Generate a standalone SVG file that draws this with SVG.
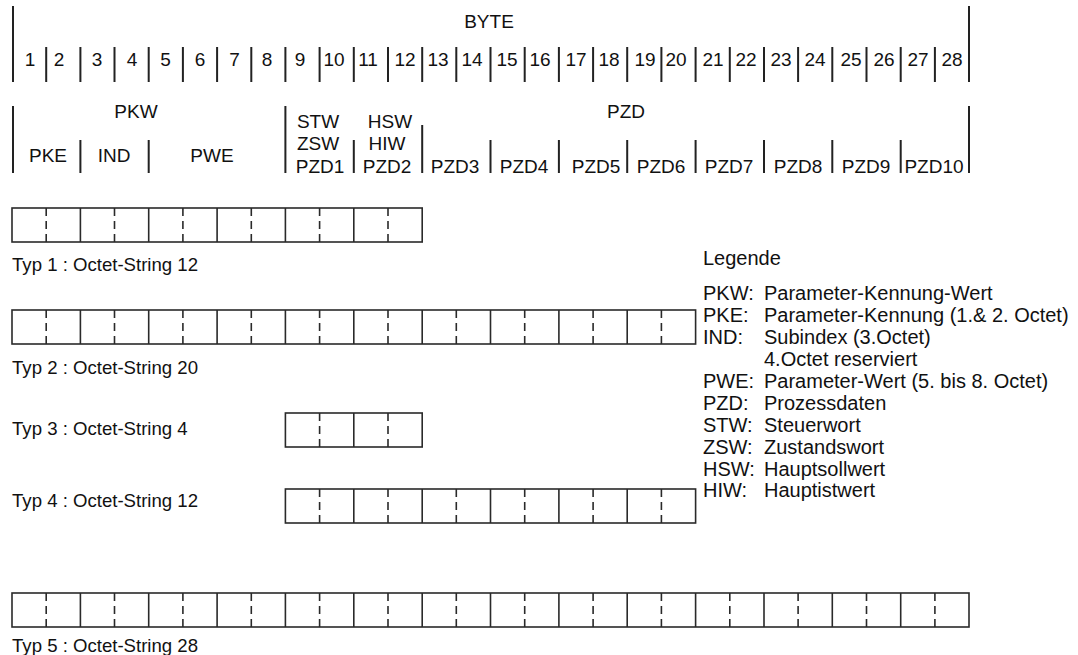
<svg xmlns="http://www.w3.org/2000/svg" width="1078" height="655" viewBox="0 0 1078 655">
<style>
text{font-family:"Liberation Sans",Arial,sans-serif;fill:#111}
.h{font-size:19px;text-anchor:middle}
.t{font-size:18.6px}
.l{font-size:20px}
.hl{stroke:#222;stroke-width:2;fill:none}
.bx{stroke:#2a2a2a;stroke-width:1.6;fill:none}
.ds{stroke:#2a2a2a;stroke-width:1.6;stroke-dasharray:8 5;fill:none}
</style>
<rect width="1078" height="655" fill="#fff"/>
<g id="header-byte">
<text class="h" x="489" y="28">BYTE</text>
<path class="hl" d="M13 6V82M969 6V82M46.2 47V82M80.4 47V82M114.5 47V82M148.7 47V82M182.9 47V82M217.1 47V82M251.3 47V82M285.4 47V82M319.6 47V82M353.8 47V82M388 47V82M422.2 47V82M456.3 47V82M490.5 47V82M524.7 47V82M558.9 47V82M593.1 47V82M627.2 47V82M661.4 47V82M695.6 47V82M729.8 47V82M764 47V82M798.1 47V82M832.3 47V82M866.5 47V82M900.7 47V82M934.9 47V82"/>
<g class="nums">
<text class="h" x="30" y="65.5">1</text><text class="h" x="59" y="65.5">2</text><text class="h" x="97" y="65.5">3</text><text class="h" x="132" y="65.5">4</text><text class="h" x="165.5" y="65.5">5</text><text class="h" x="200" y="65.5">6</text><text class="h" x="234.5" y="65.5">7</text><text class="h" x="267" y="65.5">8</text><text class="h" x="300" y="65.5">9</text><text class="h" x="334" y="65.5">10</text><text class="h" x="368" y="65.5">11</text><text class="h" x="405" y="65.5">12</text><text class="h" x="438" y="65.5">13</text><text class="h" x="472" y="65.5">14</text><text class="h" x="507" y="65.5">15</text><text class="h" x="540" y="65.5">16</text><text class="h" x="576" y="65.5">17</text><text class="h" x="609" y="65.5">18</text><text class="h" x="645" y="65.5">19</text><text class="h" x="676" y="65.5">20</text><text class="h" x="713" y="65.5">21</text><text class="h" x="746" y="65.5">22</text><text class="h" x="781" y="65.5">23</text><text class="h" x="815" y="65.5">24</text><text class="h" x="851" y="65.5">25</text><text class="h" x="884" y="65.5">26</text><text class="h" x="918" y="65.5">27</text><text class="h" x="952" y="65.5">28</text>
</g>
</g>
<g id="header-fields">
<path class="hl" d="M13 106V173M969 106V173M80.4 140V173M148.7 140V173M285.4 106V173M353.8 140V173M422.2 125V173M490.5 140V173M558.9 140V173M627.2 140V173M695.6 140V173M764 140V173M832.3 140V173M900.7 140V173"/>
<text class="h" x="136" y="117.5">PKW</text>
<text class="h" x="48" y="162">PKE</text>
<text class="h" x="114" y="162">IND</text>
<text class="h" x="212" y="162">PWE</text>
<text class="h" x="318" y="127.5">STW</text>
<text class="h" x="318" y="150">ZSW</text>
<text class="h" x="320" y="172.5">PZD1</text>
<text class="h" x="390" y="127.5">HSW</text>
<text class="h" x="387" y="150">HIW</text>
<text class="h" x="387" y="172.5">PZD2</text>
<text class="h" x="626" y="117.5">PZD</text>
<text class="h" x="455" y="172.5">PZD3</text>
<text class="h" x="524" y="172.5">PZD4</text>
<text class="h" x="596" y="172.5">PZD5</text>
<text class="h" x="661" y="172.5">PZD6</text>
<text class="h" x="729" y="172.5">PZD7</text>
<text class="h" x="798" y="172.5">PZD8</text>
<text class="h" x="866" y="172.5">PZD9</text>
<text class="h" x="934" y="172.5">PZD10</text>
</g>
<g id="typ1">
<rect class="bx" x="12" y="208" width="410.2" height="34"/>
<path class="ds" d="M46.2 208V242M114.5 208V242M182.9 208V242M251.3 208V242M319.6 208V242M388 208V242"/>
<path class="bx" d="M80.4 208V242M148.7 208V242M217.1 208V242M285.4 208V242M353.8 208V242"/>
<text class="t" x="12" y="271">Typ 1 : Octet-String 12</text>
</g>
<g id="typ2">
<rect class="bx" x="12" y="310" width="683.6" height="34"/>
<path class="ds" d="M46.2 310V344M114.5 310V344M182.9 310V344M251.3 310V344M319.6 310V344M388 310V344M456.3 310V344M524.7 310V344M593.1 310V344M661.4 310V344"/>
<path class="bx" d="M80.4 310V344M148.7 310V344M217.1 310V344M285.4 310V344M353.8 310V344M422.2 310V344M490.5 310V344M558.9 310V344M627.2 310V344"/>
<text class="t" x="12" y="374">Typ 2 : Octet-String 20</text>
</g>
<g id="typ3">
<rect class="bx" x="285.4" y="413" width="136.8" height="34"/>
<path class="ds" d="M319.6 413V447M388 413V447"/>
<path class="bx" d="M353.8 413V447"/>
<text class="t" x="12" y="435">Typ 3 : Octet-String 4</text>
</g>
<g id="typ4">
<rect class="bx" x="285.4" y="489" width="410.2" height="34"/>
<path class="ds" d="M319.6 489V523M388 489V523M456.3 489V523M524.7 489V523M593.1 489V523M661.4 489V523"/>
<path class="bx" d="M353.8 489V523M422.2 489V523M490.5 489V523M558.9 489V523M627.2 489V523"/>
<text class="t" x="12" y="507">Typ 4 : Octet-String 12</text>
</g>
<g id="typ5">
<rect class="bx" x="12" y="593" width="957" height="34"/>
<path class="ds" d="M46.2 593V627M114.5 593V627M182.9 593V627M251.3 593V627M319.6 593V627M388 593V627M456.3 593V627M524.7 593V627M593.1 593V627M661.4 593V627M729.8 593V627M798.1 593V627M866.5 593V627M934.9 593V627"/>
<path class="bx" d="M80.4 593V627M148.7 593V627M217.1 593V627M285.4 593V627M353.8 593V627M422.2 593V627M490.5 593V627M558.9 593V627M627.2 593V627M695.6 593V627M764 593V627M832.3 593V627M900.7 593V627"/>
<text class="t" x="12" y="652">Typ 5 : Octet-String 28</text>
</g>
<g id="legende">
<text class="l" x="703" y="265">Legende</text>
<text class="l" x="703" y="300">PKW:</text><text class="l" x="764" y="300">Parameter-Kennung-Wert</text>
<text class="l" x="703" y="322">PKE:</text><text class="l" x="764" y="322">Parameter-Kennung (1.&amp; 2. Octet)</text>
<text class="l" x="703" y="344">IND:</text><text class="l" x="764" y="344">Subindex (3.Octet)</text>
<text class="l" x="764" y="366">4.Octet reserviert</text>
<text class="l" x="703" y="388">PWE:</text><text class="l" x="764" y="388">Parameter-Wert (5. bis 8. Octet)</text>
<text class="l" x="703" y="410">PZD:</text><text class="l" x="764" y="410">Prozessdaten</text>
<text class="l" x="703" y="432">STW:</text><text class="l" x="764" y="432">Steuerwort</text>
<text class="l" x="703" y="454">ZSW:</text><text class="l" x="764" y="454">Zustandswort</text>
<text class="l" x="703" y="476">HSW:</text><text class="l" x="764" y="476">Hauptsollwert</text>
<text class="l" x="703" y="497">HIW:</text><text class="l" x="764" y="497">Hauptistwert</text>
</g>
</svg>
